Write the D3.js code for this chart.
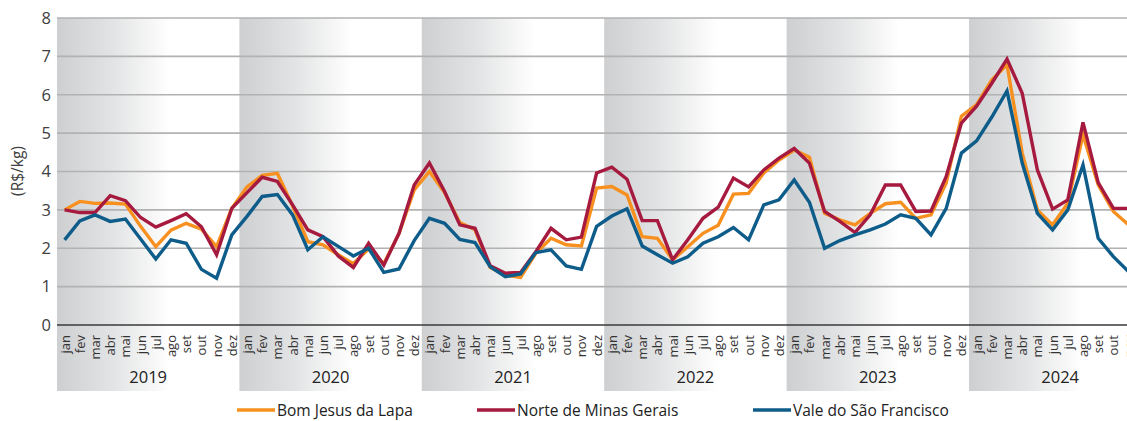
<!DOCTYPE html>
<html><head><meta charset="utf-8">
<script src="https://cdn.jsdelivr.net/npm/d3@7"></script>
<style>html,body{margin:0;padding:0;background:#fff;overflow:hidden}svg{display:block;font-family:"Open Sans",sans-serif}</style>
</head><body>
<svg id="c" width="1127" height="421"></svg>
<script>
const years = ["2019","2020","2021","2022","2023","2024"];
const monthNames = ["jan","fev","mar","abr","mai","jun","jul","ago","set","out","nov","dez"];
const yTicks = [0,1,2,3,4,5,6,7,8];
const seriesNames = ["Bom Jesus da Lapa","Norte de Minas Gerais","Vale do São Francisco"];
const seriesColors = ["#f7901e","#a51a3e","#0e5c89"];

const bomJesus = [
 3.0,3.22,3.17,3.18,3.15,2.57,2.04,2.47,2.65,2.5,2.04,3.04,
 3.6,3.9,3.95,3.1,2.17,2.09,1.83,1.6,1.98,1.6,2.38,3.52,
 4.0,3.45,2.67,2.48,1.5,1.3,1.24,1.87,2.26,2.09,2.06,3.57,
 3.61,3.39,2.3,2.26,1.7,2.04,2.39,2.6,3.41,3.43,3.96,4.3,
 4.56,4.37,2.91,2.74,2.61,2.91,3.16,3.2,2.78,2.87,3.7,5.44,
 5.74,6.39,6.78,4.48,3.0,2.61,3.17,4.96,3.65,2.96,2.61];
const norteMinas = [
 3.0,2.93,2.93,3.37,3.24,2.8,2.55,2.72,2.9,2.56,1.83,3.04,
 3.45,3.85,3.74,3.13,2.48,2.3,1.8,1.5,2.13,1.56,2.39,3.65,
 4.22,3.48,2.61,2.52,1.54,1.35,1.37,1.91,2.52,2.22,2.29,3.96,
 4.11,3.8,2.72,2.72,1.7,2.22,2.78,3.07,3.83,3.6,4.04,4.35,
 4.6,4.22,2.96,2.7,2.41,2.87,3.65,3.65,2.96,2.97,3.87,5.26,
 5.7,6.3,6.93,6.04,4.04,3.02,3.26,5.28,3.71,3.04,3.04];
const valeSF = [
 2.22,2.71,2.87,2.7,2.76,2.24,1.72,2.22,2.13,1.45,1.22,2.35,
 2.83,3.35,3.4,2.87,1.96,2.3,2.05,1.8,2.0,1.37,1.46,2.2,
 2.78,2.65,2.23,2.15,1.52,1.26,1.33,1.89,1.96,1.54,1.45,2.57,
 2.84,3.03,2.06,1.83,1.61,1.78,2.13,2.3,2.54,2.22,3.13,3.26,
 3.78,3.2,2.0,2.2,2.35,2.48,2.63,2.87,2.78,2.35,3.04,4.48,
 4.8,5.42,6.1,4.22,2.91,2.48,3.0,4.17,2.26,1.78,1.39];

const categories = [];
years.forEach(yr => monthNames.forEach(m => categories.push(yr + "-" + m)));

const svg = d3.select("#c");
const plotLeft = 57, plotRight = 57 + 72 * 15.2, plotTop = 18, zeroY = 325, bandBottom = 391;

const x = d3.scaleBand().domain(categories).range([plotLeft, plotRight]).padding(0);
const y = d3.scaleLinear().domain([0, 8]).range([zeroY, plotTop]);
const yearX = d3.scaleBand().domain(years).range([plotLeft, plotRight]).padding(0);

const defs = svg.append("defs");
const grad = defs.append("linearGradient").attr("id","yg").attr("x1","0").attr("x2","1").attr("y1","0").attr("y2","0");
grad.append("stop").attr("offset","0").attr("stop-color","#cecfd1");
grad.append("stop").attr("offset","0.3").attr("stop-color","#e2e3e4");
grad.append("stop").attr("offset","0.62").attr("stop-color","#ffffff");
grad.append("stop").attr("offset","1").attr("stop-color","#ffffff");

svg.append("g").selectAll("rect").data(years).join("rect")
  .attr("x", d => yearX(d)).attr("y", plotTop)
  .attr("width", yearX.bandwidth()).attr("height", bandBottom - plotTop)
  .attr("fill", "url(#yg)");

// grid
svg.append("g").selectAll("line").data(yTicks.filter(d => d > 0)).join("line")
  .attr("x1", plotLeft).attr("x2", 1127).attr("y1", d => y(d)).attr("y2", d => y(d))
  .attr("stroke", "#b2b2b2").attr("stroke-width", 1.6);
svg.append("line").attr("x1", plotLeft).attr("x2", 1127).attr("y1", y(0)).attr("y2", y(0))
  .attr("stroke", "#3a3a3a").attr("stroke-width", 1.5);

// y axis labels
const yAxis = d3.axisLeft(y).tickValues(yTicks).tickSize(0).tickPadding(6);
const ya = svg.append("g").attr("transform", `translate(${plotLeft},0)`).call(yAxis);
ya.select(".domain").remove();
ya.selectAll("text").attr("font-size", 16.5).attr("fill", "#404040").attr("font-family", "'Open Sans',sans-serif");

svg.append("text").attr("transform", `translate(23,171) rotate(-90)`)
  .attr("text-anchor","middle").attr("font-size",15.5).attr("fill","#404040").text("(R$/kg)");

// month labels (last one falls outside the picture, as in the source)
svg.append("g").selectAll("text").data(categories.slice(0, 71)).join("text")
  .attr("transform", d => `translate(${x(d) + x.bandwidth()/2},335) rotate(-90)`)
  .attr("text-anchor","end").attr("dominant-baseline","central")
  .attr("font-size",13).attr("fill","#333").text(d => d.split("-")[1]);

// year labels
svg.append("g").selectAll("text").data(years).join("text")
  .attr("x", d => yearX(d) + yearX.bandwidth()/2).attr("y", 383)
  .attr("text-anchor","middle").attr("font-size",16.5).attr("fill","#222").text(d => d);

// lines
const line = d3.line().x((d,i) => x(categories[i]) + x.bandwidth()/2).y(d => y(d));
[bomJesus, norteMinas, valeSF].forEach((s, k) => {
  svg.append("path").datum(s).attr("d", line).attr("fill","none")
    .attr("stroke", seriesColors[k]).attr("stroke-width", 3.4)
    .attr("stroke-linejoin","miter").attr("stroke-linecap","butt");
});

// legend
const legX = [237, 477, 753];
const lg = svg.append("g").selectAll("g").data(seriesNames).join("g")
  .attr("transform", (d,i) => `translate(${legX[i]},410)`);
lg.append("line").attr("x1",0).attr("x2",38).attr("y1",0).attr("y2",0)
  .attr("stroke",(d,i)=>seriesColors[i]).attr("stroke-width",3.4);
lg.append("text").attr("x",40).attr("y",0).attr("dominant-baseline","central")
  .attr("font-size",15.5).attr("fill","#222").text(d=>d);
</script>
</body></html>
